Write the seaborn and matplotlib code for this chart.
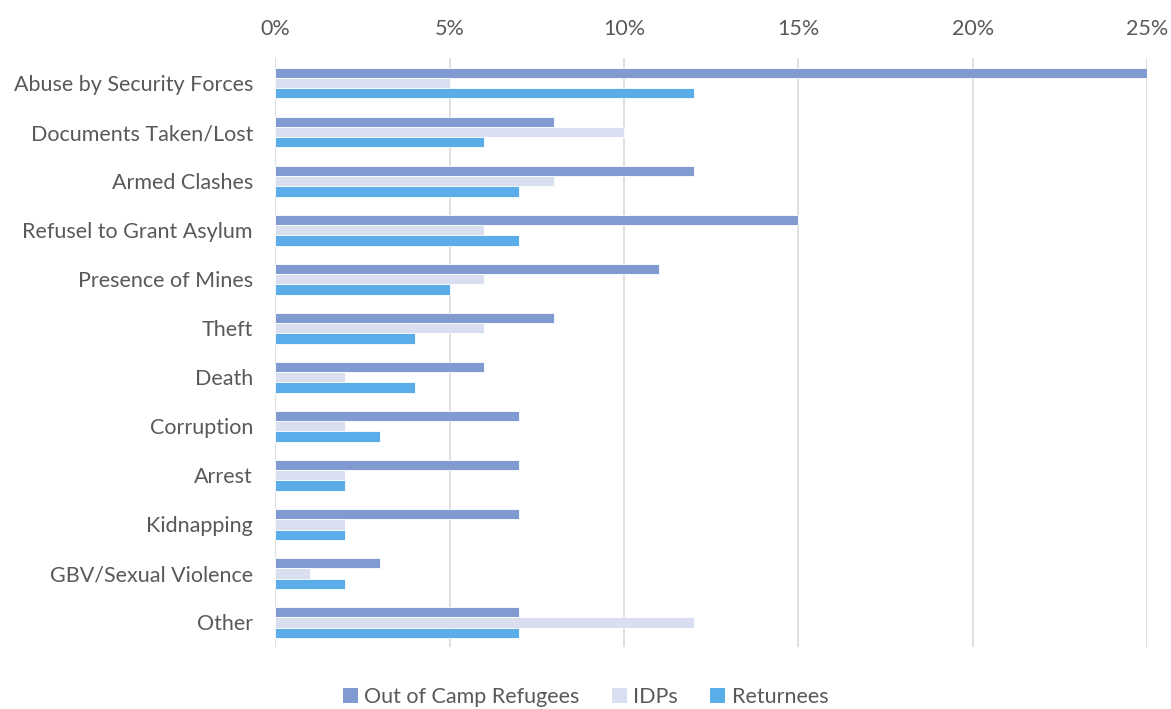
import matplotlib
matplotlib.use("Agg")
import matplotlib.pyplot as plt
import seaborn as sns
import pandas as pd
from matplotlib.patches import Patch
from matplotlib.ticker import FuncFormatter

categories = ["Abuse by Security Forces", "Documents Taken/Lost", "Armed Clashes",
              "Refusel to Grant Asylum", "Presence of Mines", "Theft", "Death",
              "Corruption", "Arrest", "Kidnapping", "GBV/Sexual Violence", "Other"]
series = ["Out of Camp Refugees", "IDPs", "Returnees"]
out_of_camp = [25, 8, 12, 15, 11, 8, 6, 7, 7, 7, 3, 7]
idps = [5, 10, 8, 6, 6, 6, 2, 2, 2, 2, 1, 12]
returnees = [12, 6, 7, 7, 5, 4, 4, 3, 2, 2, 2, 7]
colors = ["#7F9BD2", "#D9DFF1", "#5BADEA"]

rows = []
for s, vals in zip(series, [out_of_camp, idps, returnees]):
    for c, v in zip(categories, vals):
        rows.append({"Category": c, "Series": s, "Value": v})
df = pd.DataFrame(rows)

sns.set_theme(style="white")
plt.rcParams['font.family'] = ['Lato', 'DejaVu Sans']

fig = plt.figure(figsize=(11.71, 7.09), dpi=100)
ax = fig.add_axes([0.235, 0.0875, 0.7445, 0.83])

sns.barplot(data=df, y="Category", x="Value", hue="Series", order=categories,
            hue_order=series, palette=colors, saturation=1, orient="h", width=0.63,
            edgecolor="white", linewidth=0.6, ax=ax, legend=False)

ax.set_xlim(0, 25)
ax.set_xticks([0, 5, 10, 15, 20, 25])
ax.xaxis.set_major_formatter(FuncFormatter(lambda v, p: f"{int(v)}%"))
ax.xaxis.tick_top()
ax.tick_params(axis="both", length=0, labelsize=15.5, colors="#595959")
ax.tick_params(axis="y", pad=16)
ax.tick_params(axis="x", pad=14)
ax.set_xlabel("")
ax.set_ylabel("")
ax.grid(axis="x", color="#D9D9D9", linewidth=1.2)
ax.set_axisbelow(True)
for sp in ax.spines.values():
    sp.set_visible(False)

handles = [Patch(facecolor=c, edgecolor="none") for c in colors]
fig.legend(handles, series, loc="lower center", bbox_to_anchor=(0.5, -0.024), ncol=3,
           frameon=False, fontsize=15.5, handlelength=0.7, handleheight=0.7,
           handletextpad=0.3, columnspacing=1.5, labelcolor="#595959")

fig.savefig("out.png", dpi=100)
